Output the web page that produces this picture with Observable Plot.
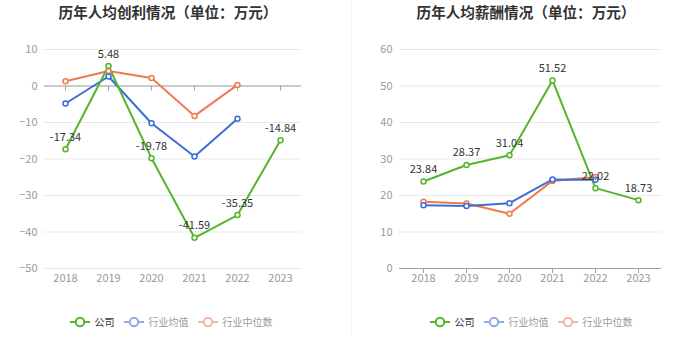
<!DOCTYPE html>
<html>
<head>
<meta charset="utf-8">
<script src="https://cdn.jsdelivr.net/npm/d3@7"></script>
<script src="https://cdn.jsdelivr.net/npm/@observablehq/plot@0.6"></script>
<style>
  body { margin: 0; background: #fff; font-family: "Noto Sans CJK SC", "Noto Sans", sans-serif; }
  #wrap { position: relative; width: 700px; height: 360px; overflow: hidden; }
  .title { position: absolute; top: 1px; width: 400px; text-align: center; font-size: 14.6px; font-weight: bold; color: #333; line-height: 22px; }
  .chart { position: absolute; top: 30px; }
  .legend { position: absolute; top: 313px; width: 400px; display: flex; justify-content: center; align-items: center; font-size: 10px; line-height: 18px; }
  .legend .item { display: flex; align-items: center; margin: 0 4.5px; }
  .legend svg { margin-right: 5px; }
  .sep { position: absolute; left: 351px; top: 0; width: 1px; height: 335px; background: #f2f2f2; }
</style>
</head>
<body>
<div id="wrap"></div>
<script>
// ---- data ----
const years = ["2018", "2019", "2020", "2021", "2022", "2023"];
const seriesNames = ["公司", "行业均值", "行业中位数"];
const seriesColors = ["#55b529", "#3a6fd8", "#f17a4d"];
const legendIconColors = ["#55b529", "#91aae8", "#f5b7a3"];
const legendTextColors = ["#333", "#999", "#999"];

const profitTitle = "历年人均创利情况（单位：万元）";
const profitCompany = [-17.34, 5.48, -19.78, -41.59, -35.35, -14.84];
const profitAvg = [-4.8, 2.6, -10.2, -19.3, -9.0, null];
const profitMedian = [1.3, 4.1, 2.2, -8.2, 0.3, null];
const profitTicks = [-50, -40, -30, -20, -10, 0, 10];

const salaryTitle = "历年人均薪酬情况（单位：万元）";
const salaryCompany = [23.84, 28.37, 31.04, 51.52, 22.02, 18.73];
const salaryAvg = [17.3, 17.1, 17.9, 24.4, 24.3, null];
const salaryMedian = [18.3, 17.8, 15.0, 24.0, 25.1, null];
const salaryTicks = [0, 10, 20, 30, 40, 50, 60];

// ---- helpers ----
function toRows(arr) {
  return years.map((y, i) => ({ year: y, value: arr[i] })).filter(d => d.value != null);
}

function makeChart({ company, avg, median, ticks, marginLeft, marginRight, xRange }) {
  const series = [median, avg, company].map(toRows);
  const colors = [seriesColors[2], seriesColors[1], seriesColors[0]];
  const comp = toRows(company);
  const marks = [
    Plot.gridY(ticks, { stroke: "#e9e9e9", strokeOpacity: 1 }),
    Plot.ruleY([0], { stroke: "#a0a0a0", strokeWidth: 1 }),
    Plot.ruleX(years, { x: d => d, y1: 0, y2: 0, insetBottom: -5, stroke: "#a0a0a0" }),
    Plot.axisY(ticks, { tickSize: 0, tickPadding: 7, fill: "#999", fontSize: 11 }),
    Plot.axisX({ tickSize: 0, tickPadding: 6, fill: "#999", fontSize: 11 })
  ];
  series.forEach((rows, k) => {
    marks.push(Plot.line(rows, { x: "year", y: "value", stroke: colors[k], strokeWidth: 2 }));
  });
  series.forEach((rows, k) => {
    marks.push(Plot.dot(rows, { x: "year", y: "value", r: 2.5, fill: "#fff", stroke: colors[k], strokeWidth: 1.5 }));
  });
  marks.push(Plot.text(comp, { x: "year", y: "value", text: d => d.value.toFixed(2), dy: -12, fill: "#333", fontSize: 11 }));
  return Plot.plot({
    width: 350,
    height: 270,
    marginTop: 19,
    marginBottom: 32,
    marginLeft,
    marginRight,
    style: { fontFamily: '"Noto Sans CJK SC", "Noto Sans", sans-serif', background: "transparent", overflow: "visible" },
    x: { type: "point", domain: years, range: xRange, padding: 0, label: null },
    y: { domain: [ticks[0], ticks[ticks.length - 1]], label: null },
    marks
  });
}

function makeLegend(cx) {
  const lg = document.createElement("div");
  lg.className = "legend";
  lg.style.left = (cx - 200) + "px";
  seriesNames.forEach((name, i) => {
    const item = document.createElement("div");
    item.className = "item";
    item.innerHTML =
      `<svg width="20" height="12"><line x1="0" y1="6" x2="20" y2="6" stroke="${legendIconColors[i]}" stroke-width="2"/>` +
      `<circle cx="10" cy="6" r="4.2" fill="#fff" stroke="${legendIconColors[i]}" stroke-width="2"/></svg>` +
      `<span style="color:${legendTextColors[i]}">${name}</span>`;
    lg.appendChild(item);
  });
  return lg;
}

function makeTitle(text, cx) {
  const t = document.createElement("div");
  t.className = "title";
  t.style.left = (cx - 200) + "px";
  t.textContent = text;
  return t;
}

const wrap = document.getElementById("wrap");

// left panel
wrap.appendChild(makeTitle(profitTitle, 168));
const c1 = makeChart({ company: profitCompany, avg: profitAvg, median: profitMedian, ticks: profitTicks, marginLeft: 44, marginRight: 49, xRange: [65, 280] });
c1.classList.add("chart");
c1.style.left = "0px";
wrap.appendChild(c1);
wrap.appendChild(makeLegend(171));

const sep = document.createElement("div");
sep.className = "sep";
wrap.appendChild(sep);

// right panel
wrap.appendChild(makeTitle(salaryTitle, 526));
const c2 = makeChart({ company: salaryCompany, avg: salaryAvg, median: salaryMedian, ticks: salaryTicks, marginLeft: 49, marginRight: 39, xRange: [71, 289] });
c2.classList.add("chart");
c2.style.left = "350px";
wrap.appendChild(c2);
wrap.appendChild(makeLegend(531));
</script>
</body>
</html>
